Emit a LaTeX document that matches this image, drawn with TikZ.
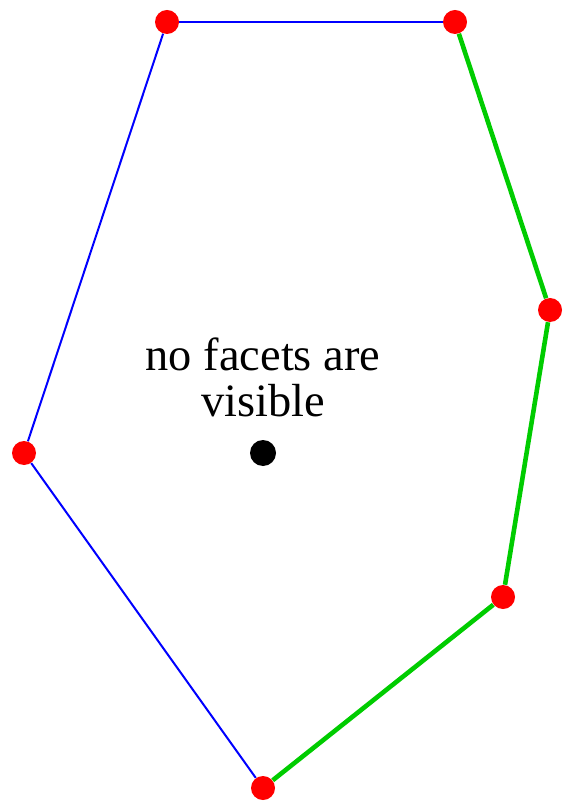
\documentclass[tikz,border=0pt]{standalone}
\usepackage{fontspec}
\setmainfont{Liberation Serif}
\usetikzlibrary{positioning}

\definecolor{facetgreen}{RGB}{0,204,0}

\begin{document}
\begin{tikzpicture}[x=0.5pt, y=-0.5pt,
                    vertex/.style={circle, fill=red, inner sep=0pt, minimum size=12pt},
                    point/.style={circle, fill=black, inner sep=0pt, minimum size=13pt},
                    hidden/.style={draw=blue, line width=1pt},
                    visible/.style={draw=facetgreen, line width=2.3pt}]
  \useasboundingbox (0,0) rectangle (562,801);

  % Define nodes
  \node[vertex] (topleft)  at (167,22)  {};
  \node[vertex] (topright) at (455,22)  {};
  \node[vertex] (right)    at (550,310) {};
  \node[vertex] (lowright) at (503,597) {};
  \node[vertex] (bottom)   at (263,788) {};
  \node[vertex] (left)     at (24,453)  {};

  \node[point] (query) at (263,453) {};
  \node[align=center, inner sep=0pt, font=\fontsize{23.2}{23.2}\selectfont, above=11pt of query] (label)
    {no facets are\\visible};

  % Define paths
  \draw[hidden] (left) -- (topleft);
  \draw[hidden] (topleft) -- (topright);
  \draw[hidden] (left) -- (bottom);
  \draw[visible] (topright) -- (right);
  \draw[visible] (right) -- (lowright);
  \draw[visible] (lowright) -- (bottom);

\end{tikzpicture}
\end{document}
